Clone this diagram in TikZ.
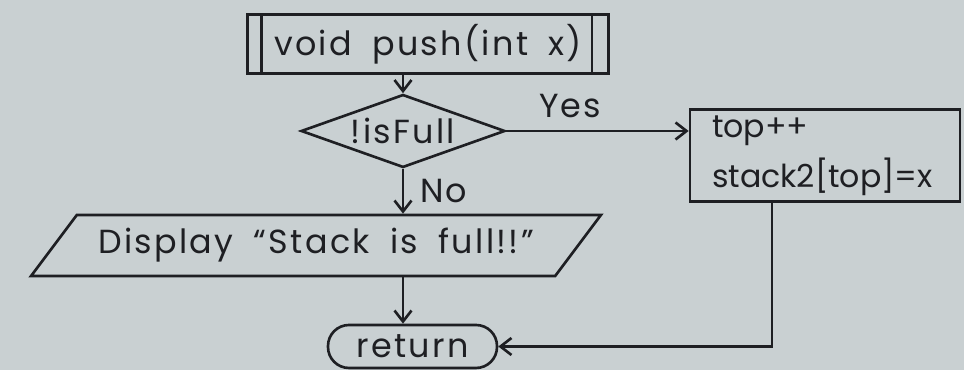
\documentclass[tikz,border=0pt]{standalone}
\usepackage{fontspec}
\setmainfont{Poppins}
\usetikzlibrary{shapes.geometric,arrows.meta,positioning}
\definecolor{paper}{HTML}{C9D0D2}
\definecolor{ink}{HTML}{1E1F23}
% handwritten labels run wide
\newfontfamily\wide{Poppins}[LetterSpace=7, WordSpace=1.8]

\begin{document}
\begin{tikzpicture}[
  color=ink, line width=1.5pt,
  font=\wide\fontsize{19}{22}\selectfont,
  flow/.style={-{Straight Barb[length=2.2mm,width=3.4mm]}},
  procbox/.style={draw, rectangle, minimum width=7.22cm, minimum height=1.18cm},
  decision/.style={draw, diamond, aspect=2.8, minimum width=4.08cm, minimum height=1.46cm, inner sep=0pt},
  stepbox/.style={draw, rectangle, minimum width=5.4cm, minimum height=1.78cm,
    text width=4.52cm, inner xsep=0.44cm, align=left, font=\fontsize{18}{21}\selectfont},
  iobox/.style={draw, trapezium, trapezium left angle=47, trapezium right angle=133,
    trapezium stretches=true, minimum width=11.4cm, minimum height=1.22cm},
  endbox/.style={draw, rectangle, rounded corners=0.42cm, minimum width=3.38cm, minimum height=0.86cm}
]
% paper
\fill[paper] (0,0) rectangle (19.28,7.4);
\useasboundingbox (0,0) rectangle (19.28,7.4);

% function header (predefined process)
\node[procbox] (push) at (8.56,6.52) {void push(int x)};
\draw ([xshift=0.3cm]push.north west) -- ([xshift=0.3cm]push.south west);
\draw ([xshift=-0.36cm]push.north east) -- ([xshift=-0.36cm]push.south east);

\node[decision] (full) at (8.06,4.78) {!isFull};
\node[stepbox] (inc) at (16.5,4.29) {top++\\[6pt]stack2[top]=x};
\node[iobox] (disp) at (6.32,2.49) {Display “Stack is full!!”};
\node[endbox] (ret) at (8.25,0.47) {return};

% connectors
\draw[flow] (push.south -| full.north) -- (full.north);
\draw[flow] (full.east) -- (full.east -| inc.west) node[pos=0.35, above=0.12cm] {Yes};
\draw[flow] (full.south) -- (full.south |- disp.north) node[midway, right=0.2cm] {No};
\draw[flow] (full.south |- disp.south) -- (full.south |- ret.north);
\draw[flow] ([xshift=-1.06cm]inc.south) |- (ret.east);
\end{tikzpicture}
\end{document}
